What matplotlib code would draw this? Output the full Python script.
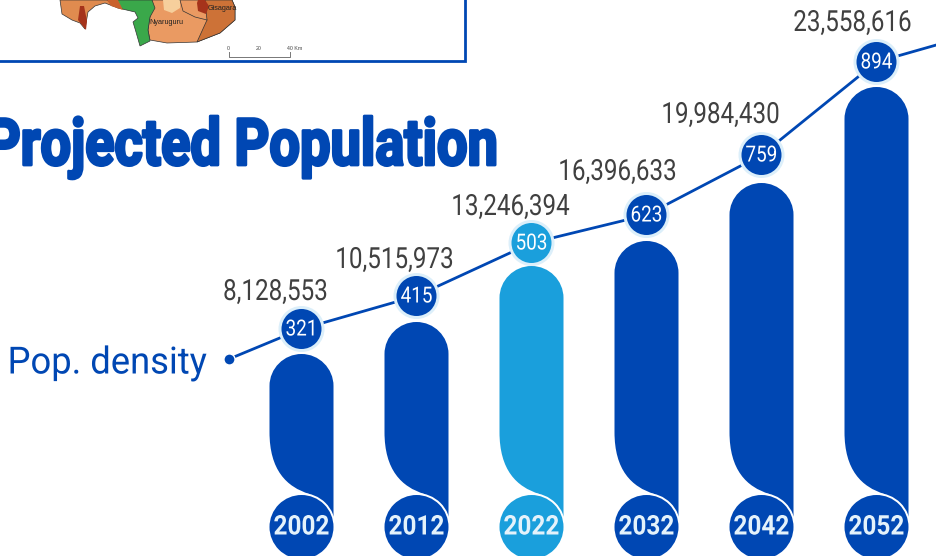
import matplotlib
matplotlib.use('Agg')
import matplotlib.pyplot as plt
from matplotlib.patches import Ellipse, PathPatch, Polygon, Rectangle
from matplotlib.path import Path
from matplotlib.transforms import Affine2D
import matplotlib.patheffects as pe

plt.rcParams['font.family'] = ['Roboto', 'DejaVu Sans']

# values
years = [2002, 2012, 2022, 2032, 2042, 2052]
population = [8128553, 10515973, 13246394, 16396633, 19984430, 23558616]
density = [321, 415, 503, 623, 759, 894]
# the bars and the density line are not to scale in the original, so their levels are read too
bar_level = [163, 195, 251, 276, 334, 430]
line_level = [188, 221, 274, 302, 362, 455]
label_level = [225, 257, 310, 345, 402, 494]
label_shift = [-26, -22, -21, -29, -41, -24]

BLUE = '#0047b3'
SKY = '#1a9fdc'
PALE = '#dceffa'
PX = 11.5  # pixels per year


# the original font is condensed, none installed is, so squeeze the glyphs sideways
class Squeeze(pe.AbstractPathEffect):
    def __init__(self, sx, x0, stroke=0):
        super().__init__()
        self.sx, self.x0, self.stroke = sx, x0, stroke

    def draw_path(self, renderer, gc, tpath, affine, rgbFace=None):
        squeeze = Affine2D().translate(-self.x0, 0).scale(self.sx, 1).translate(self.x0, 0)
        gc0 = renderer.new_gc()
        gc0.copy_properties(gc)
        if self.stroke:
            gc0.set_linewidth(self.stroke)
            gc0.set_foreground(rgbFace)
        renderer.draw_path(gc0, tpath, affine + squeeze, rgbFace)
        gc0.restore()


def squeeze(txt, sx, stroke=0):
    x0 = txt.get_transform().transform(txt.get_position())[0]
    txt.set_path_effects([Squeeze(sx, x0, stroke)])


fig = plt.figure(figsize=(9.36, 5.56), dpi=100)

# years on x, one unit of y is one pixel, 0 at the foot of the bars
ax = fig.add_axes([0, 0, 1, 1])
ax.set_xlim(2002 - 301.5 / PX, 2002 + (936 - 301.5) / PX)
ax.set_ylim(-39, 517)
ax.axis('off')

# plain pixel axes for the map and the title
deco = fig.add_axes([0, 0, 1, 1], zorder=-1)
deco.set_xlim(0, 936)
deco.set_ylim(556, 0)
deco.axis('off')


def bar_path(x, top):
    hw = 32 / PX
    k = 0.55 * 32
    verts = [(x - hw, 85), (x - hw, top - 32),
             (x - hw, top - 32 + k), (x - k / PX, top), (x, top),
             (x + k / PX, top), (x + hw, top - 32 + k), (x + hw, top - 32),
             (x + hw, 0), (x + 8 / PX, 23),
             (x - 15 / PX, 30), (x - hw, 47), (x - hw, 85), (x - hw, 85)]
    codes = [Path.MOVETO, Path.LINETO,
             Path.CURVE4, Path.CURVE4, Path.CURVE4,
             Path.CURVE4, Path.CURVE4, Path.CURVE4,
             Path.LINETO, Path.LINETO,
             Path.CURVE4, Path.CURVE4, Path.CURVE4, Path.CLOSEPOLY]
    return Path(verts, codes)


def disc(x, y, r, color, z):
    ax.add_patch(Ellipse((x, y), 2 * r / PX, 2 * r, fc=color, ec='none', zorder=z))


for i, yr in enumerate(years):
    col = SKY if yr == 2022 else BLUE
    ax.add_patch(PathPatch(bar_path(yr, bar_level[i]), fc=col, ec='none', zorder=2))
    disc(yr, -10, 34, 'white', 3)
    disc(yr, -10, 32, col, 4)
    t = ax.text(yr, -10, str(yr), color='#e4f2fb', fontsize=19.5, fontweight='bold',
                ha='center', va='center', zorder=5)
    squeeze(t, 0.9)

# density line, starts at the little dot beside the label
line_x = [1995.7] + years + [2057.2]
line_y = [158] + line_level + [472]
ax.plot(line_x, line_y, color=BLUE, lw=2, zorder=6, clip_on=False)
ax.plot(line_x[0], line_y[0], 'o', ms=8, mfc=BLUE, mec='white', mew=1, zorder=7)

for i, yr in enumerate(years):
    disc(yr, line_level[i], 23, PALE, 7)
    disc(yr, line_level[i], 20, SKY if yr == 2022 else BLUE, 8)
    t = ax.text(yr, line_level[i] - 1, str(density[i]), color='white', fontsize=16,
                ha='center', va='center', zorder=9)
    squeeze(t, 0.85)
    t = ax.text(yr + label_shift[i] / PX, label_level[i], f'{population[i]:,}', color='#404040',
                fontsize=21, ha='center', va='center', zorder=9)
    squeeze(t, 0.83)

t = ax.text(1985.1, 154, 'Pop. density', color=BLUE, fontsize=27, ha='center', va='center')
squeeze(t, 0.97)

# title runs off the left edge like the original
t = deco.text(497, 165, 'Projected Population', color=BLUE, fontsize=47, fontweight='bold',
              ha='right', va='baseline')
squeeze(t, 0.83, stroke=2)

# bottom of the map inset
west = [(60, 0), (62, 14), (72, 20), (80, 23), (85, 29), (88, 12), (95, 6), (105, 3), (118, 8), (122, 0)]
green = [(107, 0), (118, 8), (135, 12), (138, 18), (133, 22), (136, 32), (140, 46), (150, 41),
         (148, 30), (150, 17), (155, 8), (152, 0)]
east = [(152, 0), (150, 17), (148, 30), (150, 40), (167, 43), (197, 42), (220, 33), (235, 20), (235, 7), (232, 0)]
gisagara = [(207, 20), (197, 42), (220, 33), (235, 20), (235, 7), (232, 0), (205, 0)]
light = [(163, 0), (164, 10), (172, 13), (180, 8), (180, 0)]
core = [(197, 3), (198, 11), (206, 14), (209, 6), (205, 0), (198, 0)]
spike = [(78, 20), (86, 30), (87, 21), (84, 6), (80, 6)]
brown = [(107, 0), (111, 6), (123, 10), (118, 0)]
for pts, c, e in [(west, '#e08b4f', '#333333'), (east, '#ea9a62', '#333333'), (gisagara, '#cd7237', '#333333'),
                  (green, '#3aa84a', '#333333'), (light, '#f6cf9c', 'none'), (core, '#a5331b', 'none'),
                  (spike, '#a5331b', 'none'), (brown, '#c9622d', 'none')]:
    deco.add_patch(Polygon(pts, closed=True, fc=c, ec=e, lw=0.5))
deco.plot([180, 183, 195, 207], [0, 11, 17, 20], color='#333333', lw=0.5)
deco.text(166, 22.5, 'Nyaruguru', fontsize=5.2, ha='center', va='center', color='#222222', family='Liberation Sans')
deco.text(222, 9, 'Gisagara', fontsize=5.2, ha='center', va='center', color='#222222', family='Liberation Sans')

deco.plot([228.5, 228.5, 289.5, 289.5], [52, 57, 57, 52], color='#777777', lw=0.7)
for sx, s in [(228.5, '0'), (259, '20'), (295, '40 Km')]:
    deco.text(sx, 48, s, fontsize=3.8, ha='center', va='center', color='#444444', family='Liberation Sans')

deco.add_patch(Rectangle((-5, -5), 470, 66, fc='none', ec=BLUE, lw=2))

fig.savefig('out.png', dpi=100)
